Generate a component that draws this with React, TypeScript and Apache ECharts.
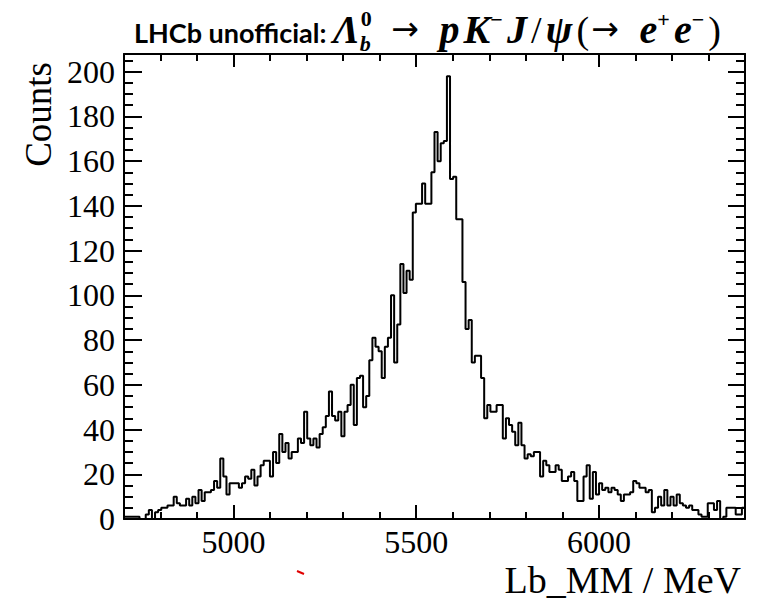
import React, { useEffect, useRef } from "react";
import * as echarts from "echarts";

// ---- data ----
const X_MIN = 4700;
const X_MAX = 6400;
const BIN_WIDTH = 8.5;
const Y_MIN = 0;
const Y_MAX = 207.9;

const counts = [
  1, 1, 1, 1, 1, 0, 0, 2, 4, 0, 3, 4, 5, 5, 6, 6, 10, 7, 6, 6,
  9, 6, 10, 7, 13, 8, 12, 12, 13, 17, 14, 27, 19, 11, 16, 16, 16, 14, 16, 19,
  18, 22, 15, 19, 24, 26, 26, 19, 30, 25, 38, 30, 34, 27, 30, 30, 36, 34, 48, 36,
  33, 36, 32, 38, 41, 46, 57, 46, 44, 48, 37, 48, 51, 60, 42, 63, 64, 50, 55, 71,
  81, 77, 75, 63, 77, 81, 100, 70, 87, 114, 101, 111, 107, 137, 141, 141, 150, 141, 141, 155,
  173, 160, 168, 169, 198, 152, 153, 134, 134, 106, 85, 89, 70, 73, 73, 63, 45, 51, 48, 48,
  51, 51, 36, 45, 42, 39, 33, 43, 33, 27, 29, 28, 30, 30, 19, 26, 24, 21, 21, 24,
  22, 17, 17, 19, 21, 17, 8, 8, 19, 24, 9, 21, 11, 16, 13, 14, 12, 14, 13, 11,
  8, 11, 11, 12, 17, 16, 14, 14, 12, 13, 3, 5, 10, 6, 13, 6, 10, 6, 11, 7,
  6, 5, 6, 4, 4, 2, 1, 1, 7, 7, 4, 8, 0, 1, 5, 5, 5, 2, 2, 5,
];

const xMajorTicks = [5000, 5500, 6000];
const xMinorTicks = [4800, 4900, 5100, 5200, 5300, 5400, 5600, 5700, 5800, 5900, 6100, 6200, 6300];
const yMajorTicks = [0, 20, 40, 60, 80, 100, 120, 140, 160, 180, 200];
const yMinorTicks = [
  5, 10, 15, 25, 30, 35, 45, 50, 55, 65, 70, 75, 85, 90, 95, 105, 110, 115,
  125, 130, 135, 145, 150, 155, 165, 170, 175, 185, 190, 195, 205,
];
const xTitle = "Lb_MM / MeV";
const yTitle = "Counts";
const titleLead = "LHCb unofficial:";

export default function App() {
  const ref = useRef<HTMLDivElement | null>(null);

  useEffect(() => {
    if (!ref.current) return;
    const chart = echarts.init(ref.current, null, { renderer: "svg" });

    // histogram as step line: bin left edges + closing right edge
    const stepData: number[][] = counts.map((c, i) => [X_MIN + i * BIN_WIDTH, c]);
    stepData.push([X_MAX, counts[counts.length - 1]]);

    const black = "#000";
    const lineStyle = { color: black, width: 2 };
    const serif = "Liberation Serif";

    const xAxis = (position: string, ticks: number[], len: number, showLine: boolean, labels: boolean) => ({
      type: "value",
      min: X_MIN,
      max: X_MAX,
      position,
      axisLine: { show: showLine, onZero: false, lineStyle },
      axisTick: { show: true, inside: true, length: len, customValues: ticks, lineStyle },
      axisLabel: labels
        ? {
            show: true,
            customValues: xMajorTicks,
            formatter: (v: number) => String(v),
            fontFamily: serif,
            fontSize: 32,
            color: black,
            margin: 7,
          }
        : { show: false },
      splitLine: { show: false },
    });
    const yAxis = (position: string, ticks: number[], len: number, showLine: boolean, labels: boolean) => ({
      type: "value",
      min: Y_MIN,
      max: Y_MAX,
      position,
      axisLine: { show: showLine, onZero: false, lineStyle },
      axisTick: { show: true, inside: true, length: len, customValues: ticks, lineStyle },
      axisLabel: labels
        ? {
            show: true,
            customValues: yMajorTicks,
            formatter: (v: number) => String(v),
            fontFamily: serif,
            fontSize: 32,
            color: black,
            margin: 9,
          }
        : { show: false },
      splitLine: { show: false },
    });

    // ---- title built from measured pieces ----
    const canvas = document.createElement("canvas");
    const ctx = canvas.getContext("2d") as CanvasRenderingContext2D;
    const SANS_B = { font: 'bold 27px "Lato"', size: 27, k: 0.387 };
    const MATH = { font: 'italic bold 40px "Liberation Serif"', size: 40, k: 0.3375 };
    const REG = { font: '38px "Liberation Serif"', size: 38, k: 0.3375 };
    const ARROW = { font: '33px "DejaVu Sans"', size: 33, k: 0.38 };
    const SUP = { font: 'bold 22px "Liberation Serif"', size: 22, k: 0.3375 };
    const SUBI = { font: 'italic bold 22px "Liberation Serif"', size: 22, k: 0.3375 };
    type Piece = { t: string; st: any; dy?: number; over?: { t: string; st: any; dy: number } };
    const mathPieces: Piece[] = [
      { t: "\u039B", st: MATH },
      { t: "b", st: SUBI, dy: 8, over: { t: "0", st: SUP, dy: -17 } },
      { t: "\u2192", st: ARROW, dy: -2 },
      { t: "p", st: MATH },
      { t: "K", st: MATH },
      { t: "\u2212", st: SUP, dy: -16 },
      { t: "J", st: MATH },
      { t: "/", st: REG },
      { t: "\u03C8", st: MATH },
      { t: "(", st: REG },
      { t: "\u2192", st: ARROW, dy: -2 },
      { t: "e", st: MATH },
      { t: "+", st: SUP, dy: -16 },
      { t: "e", st: MATH },
      { t: "\u2212", st: SUP, dy: -16 },
      { t: ")", st: REG },
    ];
    // extra gaps (relative weights) before each piece, mimicking math spacing
    const gapWeights = [0, 0, 2, 2, 0.4, 0, 0.4, 0.4, 0.4, 0.4, 0.2, 2, 0, 0.4, 0, 0.4];
    const measure = (t: string, font: string) => {
      ctx.font = font;
      return ctx.measureText(t).width;
    };
    const widths = mathPieces.map((p) => {
      let w = measure(p.t, p.st.font);
      if (p.over) w = Math.max(w, measure(p.over.t, p.over.st.font));
      return w;
    });
    const natural = widths.reduce((a, b) => a + b, 0);
    const leadX = 134;
    const mathStart = 333;
    const mathEnd = 721;
    const wsum = gapWeights.reduce((a, b) => a + b, 0);
    const unit = Math.max(0, (mathEnd - mathStart - natural) / wsum);
    const baseline = 43;
    const titleEls: any[] = [];
    const textEl = (t: string, st: any, x: number, dy: number) => ({
      type: "text",
      x,
      y: baseline - st.k * st.size + dy,
      style: {
        text: t,
        font: st.font,
        fill: black,
        textAlign: "left",
        align: "left",
        textVerticalAlign: "middle",
        verticalAlign: "middle",
      },
    });
    titleEls.push(textEl(titleLead, SANS_B, leadX, 0));
    let cx = mathStart;
    mathPieces.forEach((p, i) => {
      cx += gapWeights[i] * unit;
      titleEls.push(textEl(p.t, p.st, cx, p.dy || 0));
      if (p.over) titleEls.push(textEl(p.over.t, p.over.st, cx + 1, p.over.dy));
      cx += widths[i];
    });

    const option: any = {
      animation: false,
      backgroundColor: "#fff",
      grid: { left: 124, right: 23, top: 54, bottom: 84, outerBoundsMode: "none", containLabel: false },
      xAxis: [
        xAxis("bottom", xMajorTicks, 14, true, true),
        xAxis("bottom", xMinorTicks, 7, false, false),
        xAxis("top", xMajorTicks, 13, true, false),
        xAxis("top", xMinorTicks, 7, false, false),
      ],
      yAxis: [
        yAxis("left", yMajorTicks, 18, true, true),
        yAxis("left", yMinorTicks, 9, false, false),
        yAxis("right", yMajorTicks, 17, true, false),
        yAxis("right", yMinorTicks, 9, false, false),
      ],
      series: [
        {
          type: "line",
          xAxisIndex: 0,
          yAxisIndex: 0,
          step: "end",
          data: stepData,
          symbol: "none",
          lineStyle: { color: black, width: 2 },
          clip: true,
          z: 3,
        },
      ],
      graphic: [
        ...titleEls,
        {
          type: "text",
          x: 38,
          y: 62,
          rotation: Math.PI / 2,
          style: {
            text: yTitle,
            font: '37px "Liberation Serif"',
            fill: black,
            textAlign: "right",
            align: "right",
            textVerticalAlign: "middle",
            verticalAlign: "middle",
          },
        },
        {
          type: "text",
          x: 741,
          y: 580,
          style: {
            text: xTitle,
            font: '38px "Liberation Serif"',
            fill: black,
            textAlign: "right",
            align: "right",
            textVerticalAlign: "middle",
            verticalAlign: "middle",
          },
        },
        {
          type: "line",
          shape: { x1: 297, y1: 571, x2: 304, y2: 574 },
          style: { stroke: "#e00000", lineWidth: 2 },
        },
      ],
    };
    chart.setOption(option);
    return () => chart.dispose();
  }, []);

  return (
    <div
      ref={ref}
      style={{ position: "absolute", left: 0, top: 0, width: 768, height: 603, background: "#fff" }}
    />
  );
}
